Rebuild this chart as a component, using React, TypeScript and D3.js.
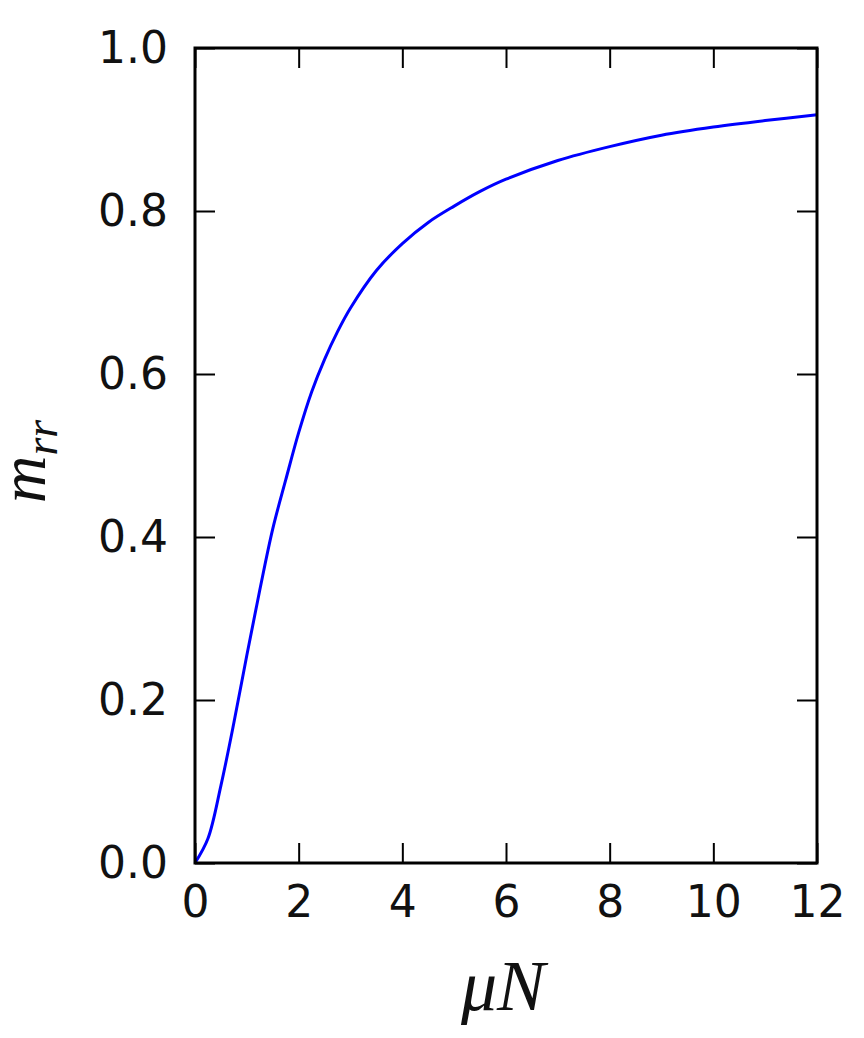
import React, { useEffect, useRef } from 'react';
import * as d3 from 'd3';

// values
const muN = [0, 0.25, 0.5, 0.75, 1, 1.25, 1.5, 1.75, 2, 2.25, 2.5, 2.75, 3, 3.5, 4, 4.5, 5, 5.5, 6, 7, 8, 9, 10, 11, 12];
const mrr = [0, 0.03, 0.095, 0.172, 0.255, 0.335, 0.41, 0.47, 0.528, 0.578, 0.618, 0.652, 0.681, 0.727, 0.76, 0.786, 0.806, 0.824, 0.839, 0.862, 0.879, 0.893, 0.903, 0.911, 0.918];
const xTicks = [0, 2, 4, 6, 8, 10, 12];
const yTicks = [0, 0.2, 0.4, 0.6, 0.8, 1.0];

const W = 864;
const H = 1038;

const App = () => {
  const svgRef = useRef<SVGSVGElement>(null);

  useEffect(() => {
    const svg = d3.select(svgRef.current);
    svg.selectAll('*').remove();

    const left = 195, right = 817, top = 48, bottom = 863;
    const x = d3.scaleLinear().domain([0, 12]).range([left, right]);
    const y = d3.scaleLinear().domain([0, 1]).range([bottom, top]);

    const tickFont = '"DejaVu Sans", sans-serif';
    const tickLen = 20;

    const styleAxis = (g) => {
      g.select('.domain').remove();
      g.selectAll('line').attr('stroke', '#000').attr('stroke-width', 2);
      g.selectAll('text').attr('fill', '#111').attr('font-family', tickFont).attr('font-size', 44);
    };

    // curve
    const pts = muN.map((v, i) => [v, mrr[i]] as [number, number]);
    const line = d3.line<[number, number]>()
      .x(d => x(d[0]))
      .y(d => y(d[1]))
      .curve(d3.curveCatmullRom.alpha(0.5));

    svg.append('path')
      .datum(pts)
      .attr('d', line)
      .attr('fill', 'none')
      .attr('stroke', '#0000ff')
      .attr('stroke-width', 3);

    svg.append('g')
      .attr('transform', `translate(0,${bottom})`)
      .call(d3.axisBottom(x).tickValues(xTicks).tickSize(-tickLen).tickPadding(23).tickFormat(d3.format('d')))
      .call(styleAxis);

    svg.append('g')
      .attr('transform', `translate(0,${top})`)
      .call(d3.axisTop(x).tickValues(xTicks).tickSize(-tickLen).tickFormat(() => ''))
      .call(styleAxis);

    svg.append('g')
      .attr('transform', `translate(${left},0)`)
      .call(d3.axisLeft(y).tickValues(yTicks).tickSize(-tickLen).tickPadding(27).tickFormat(d3.format('.1f')))
      .call(styleAxis);

    svg.append('g')
      .attr('transform', `translate(${right},0)`)
      .call(d3.axisRight(y).tickValues(yTicks).tickSize(-tickLen).tickFormat(() => ''))
      .call(styleAxis);

    // frame
    svg.append('rect')
      .attr('x', left)
      .attr('y', top)
      .attr('width', right - left)
      .attr('height', bottom - top)
      .attr('fill', 'none')
      .attr('stroke', '#000')
      .attr('stroke-width', 3);

    const labelFont = '"Liberation Serif", serif';

    // x label
    svg.append('text')
      .attr('x', (left + right) / 2 - 3)
      .attr('y', 1010)
      .attr('text-anchor', 'middle')
      .attr('font-family', labelFont)
      .attr('font-style', 'italic')
      .attr('font-size', 72)
      .attr('fill', '#111')
      .text('μN');

    // y label
    const yl = svg.append('text')
      .attr('transform', `translate(45,${(top + bottom) / 2 + 6}) rotate(-90)`)
      .attr('text-anchor', 'middle')
      .attr('font-family', labelFont)
      .attr('font-style', 'italic')
      .attr('font-size', 66)
      .attr('fill', '#111');
    yl.append('tspan').text('m');
    yl.append('tspan').attr('font-size', 46).attr('dy', 12).text('rr');
  }, []);

  return (
    <div style={{ position: 'absolute', left: 0, top: 0 }}>
      <svg ref={svgRef} width={W} height={H} style={{ display: 'block', background: '#fff' }} />
    </div>
  );
};

export default App;
